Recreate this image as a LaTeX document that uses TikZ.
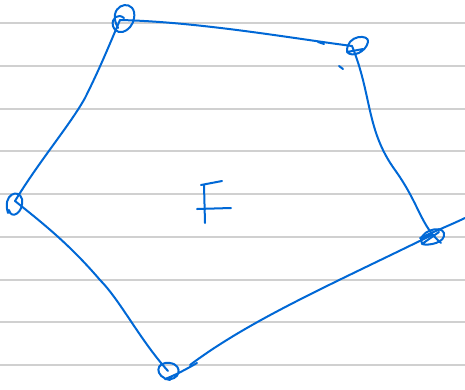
\documentclass[tikz,border=0pt]{standalone}
\definecolor{ink}{RGB}{0,104,214}
\definecolor{rule}{RGB}{208,208,208}
\tikzset{
  pen/.style={draw=ink, line width=2pt, line cap=round, line join=round},
  ruling/.style={draw=rule, line width=2pt}
}
\begin{document}
\begin{tikzpicture}[x=1pt,y=-1pt]
\useasboundingbox (0,0) rectangle (465,389);
\fill[white] (0,0) rectangle (465,389);
% ruled lines
\foreach \y in {22.7,65.7,108.5,151.2,194,236.8,279.5,322.2,365}
  \draw[ruling] (0,\y) -- (465,\y);
% vertices
\coordinate (A) at (120,20);
\coordinate (B) at (352,46);
\coordinate (C) at (432,235);
\coordinate (D) at (168,371);
\coordinate (E) at (15,201);
% edges
\draw[pen] (A) .. controls (200,22) and (290,38) .. (B);
\draw[pen] (318,42) -- (324,44);
\draw[pen] (B) .. controls (372,95) and (366,130) .. (395,170)
  .. controls (420,205) and (420,225) .. (441,243);
\draw[pen] (465,218) .. controls (440,230) and (400,245) .. (C)
  .. controls (330,285) and (250,320) .. (190,365);
\draw[pen] (D) .. controls (140,340) and (120,300) .. (100,280)
  .. controls (70,245) and (45,225) .. (E);
\draw[pen] (E) .. controls (40,160) and (70,125) .. (85,98)
  .. controls (100,68) and (108,48) .. (A);
% vertex loops
\draw[pen] (118,28) .. controls (106,6) and (131,-2) .. (134,12)
  .. controls (137,28) and (118,40) .. (113,26) .. controls (111,18) and (118,13) .. (124,18);
\draw[pen] (347,52) .. controls (346,34) and (370,34) .. (368,42)
  .. controls (366,52) and (352,58) .. (347,52) -- (363,49);
\draw[pen] (8,213) .. controls (2,194) and (19,188) .. (22,199)
  .. controls (24,213) and (11,220) .. (9,210);
\draw[pen] (422,244) .. controls (416,232) and (441,224) .. (444,233)
  .. controls (446,243) and (428,246) .. (422,244) -- (439,232);
\draw[pen] (170,380) .. controls (154,377) and (155,361) .. (170,363)
  .. controls (184,365) and (180,382) .. (165,379) .. controls (176,375) and (190,367) .. (197,363);
\draw[pen] (339,66) -- (343,69);
% label F
\node (F) at (213,204) {};
\draw[pen] (204,185) -- (205,223);
\draw[pen] (201,185) -- (222,181);
\draw[pen] (197,209) -- (231,208);
\end{tikzpicture}
\end{document}
